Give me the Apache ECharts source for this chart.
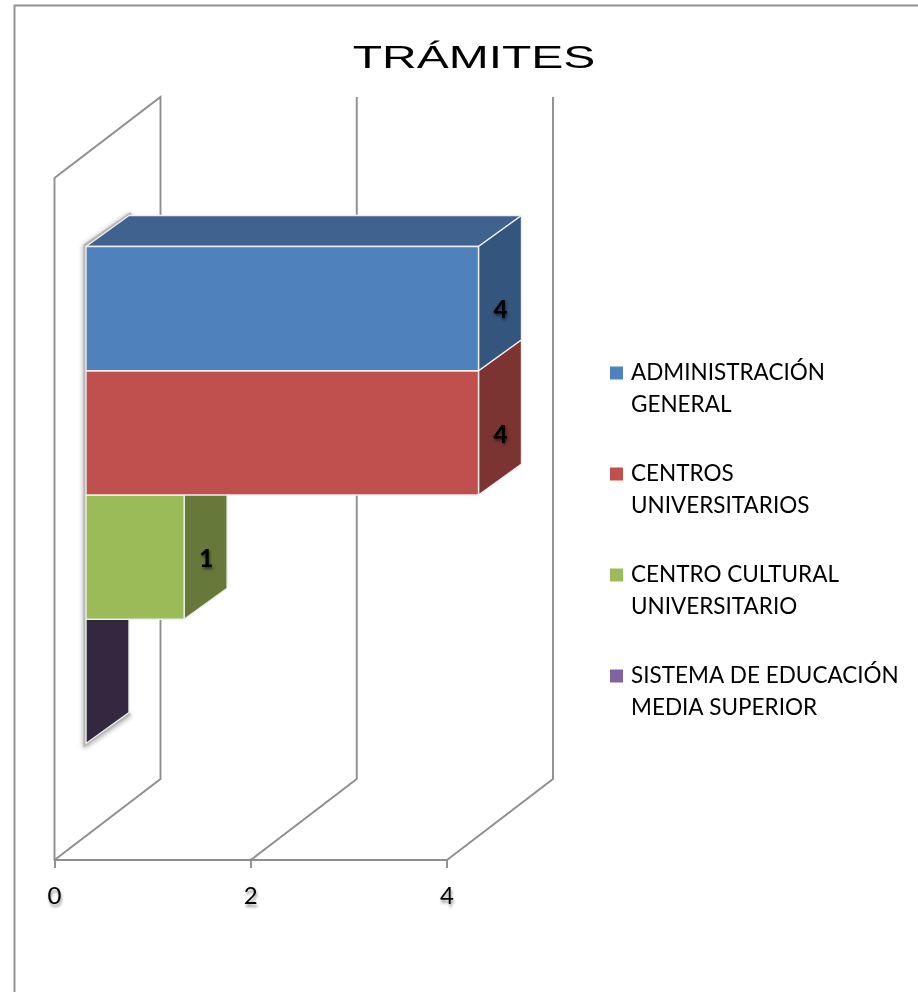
<!DOCTYPE html>
<html>
<head>
<meta charset="utf-8">
<title>TRÁMITES</title>
<script src="https://cdn.jsdelivr.net/npm/echarts@6/dist/echarts.min.js"></script>
<style>
  html, body { margin: 0; padding: 0; background: #fff; }
  #chart { width: 918px; height: 992px; }
</style>
</head>
<body>
<div id="chart"></div>
<script>
  const titleText = 'TRÁMITES'
  const categories = ['TRÁMITES']
  const seriesNames = [
    'ADMINISTRACIÓN\nGENERAL',
    'CENTROS\nUNIVERSITARIOS',
    'CENTRO CULTURAL\nUNIVERSITARIO',
    'SISTEMA DE EDUCACIÓN\nMEDIA SUPERIOR'
  ]
  const seriesValues = [4, 4, 1, 0]
  const tickValues = [0, 2, 4]

  const frontColors = ['#4f81bd', '#c0504d', '#9bbb59', '#8064a2']
  const sideColors = ['#34557e', '#7b3432', '#66793a', '#33283f']
  const topColor = '#3f628f'
  const lineColor = '#8e8e8e'
  const font = 'Lato, "Open Sans", sans-serif'

  // perspectiva: la pared del fondo y la profundidad de las barras, en pixeles
  const wallDx = 106, wallDy = -81
  const barShiftX = 31.5, barShiftY = -24
  const depthX = 43, depthY = -31
  const barRatio = 0.1822 // alto de cada barra respecto a la banda

  // cuadro de leyenda arriba, con un punto al final para que quede a la altura de la primera linea
  const legendIcon = 'path://M0 0H13V13H0ZM0 45H0.01V45.01H0Z'

  const chart = echarts.init(document.getElementById('chart'))

  function barBox(api, idx, value) {
    const band = api.size([0, 1])[1]
    const h = band * barRatio
    const left = api.coord([0, 0])[0] + barShiftX
    const right = api.coord([value, 0])[0] + barShiftX
    const top = api.coord([0, 0])[1] + barShiftY + (idx - 2) * h
    return { left, right, top, bottom: top + h }
  }

  function poly(points, fill) {
    return {
      type: 'polygon',
      shape: { points },
      style: { fill, stroke: '#eeeeee', lineWidth: 1.4, lineJoin: 'round' }
    }
  }

  function renderWall(params, api) {
    const x = api.coord([api.value(0), 0])[0]
    const cs = params.coordSys
    const bottom = cs.y + cs.height
    const top = cs.y
    const pts = api.value(0) === 0
      ? [[x, bottom], [x, top], [x + wallDx, top + wallDy], [x + wallDx, bottom + wallDy], [x, bottom]]
      : [[x, bottom], [x + wallDx, bottom + wallDy], [x + wallDx, top + wallDy]]
    return {
      type: 'polyline',
      shape: { points: pts },
      style: { fill: null, stroke: lineColor, lineWidth: 1.9 }
    }
  }

  function renderShadow(params, api) {
    const first = barBox(api, 0, 0)
    const last = barBox(api, seriesValues.length - 1, 0)
    return {
      type: 'polyline',
      shape: {
        points: [
          [first.left + depthX + 2, first.top + depthY - 2],
          [first.left - 1, first.top - 1],
          [first.left - 1, last.bottom + 1],
          [first.left + depthX + 1, last.bottom + depthY + 1]
        ]
      },
      style: {
        fill: null, stroke: '#b5b5b5', lineWidth: 3,
        shadowBlur: 5, shadowColor: 'rgba(0,0,0,0.45)', shadowOffsetY: 1
      }
    }
  }

  function makeBarRender(idx) {
    return function (params, api) {
      const value = api.value(0)
      const b = barBox(api, idx, value)
      const children = []
      if (idx === 0) {
        children.push(poly([
          [b.left, b.top], [b.left + depthX, b.top + depthY],
          [b.right + depthX, b.top + depthY], [b.right, b.top]
        ], topColor))
      }
      children.push(poly([
        [b.right, b.top], [b.right + depthX, b.top + depthY],
        [b.right + depthX, b.bottom + depthY], [b.right, b.bottom]
      ], sideColors[idx]))
      if (value > 0) {
        children.push(poly([
          [b.left, b.top], [b.right, b.top], [b.right, b.bottom], [b.left, b.bottom]
        ], frontColors[idx]))
        children.push({
          type: 'text',
          x: b.right + depthX / 2 + 0.5,
          y: (b.top + b.bottom) / 2 + depthY / 2 + 17.5,
          style: {
            text: String(value),
            align: 'center',
            verticalAlign: 'middle',
            font: '900 24px ' + font,
            fill: '#000',
            textShadowColor: 'rgba(0,0,0,0.55)',
            textShadowBlur: 3,
            textShadowOffsetX: 1,
            textShadowOffsetY: 2
          }
        })
      }
      return { type: 'group', children }
    }
  }

  // las barras de arriba tapan la parte alta del lateral de las de abajo
  const barSeries = seriesNames.map((name, i) => ({
    name,
    type: 'custom',
    coordinateSystem: 'cartesian2d',
    clip: false,
    z: 10 - i,
    itemStyle: { color: frontColors[i] },
    renderItem: makeBarRender(i),
    data: [[seriesValues[i], 0]],
    encode: { x: 0, y: 1 }
  }))

  chart.setOption({
    animation: false,
    backgroundColor: '#fff',
    grid: { left: 54.5, top: 178, width: 392.5, height: 682 },
    xAxis: {
      type: 'value',
      min: 0,
      max: 4,
      interval: 2,
      splitLine: { show: false },
      axisLine: { show: true, lineStyle: { color: lineColor, width: 1.9 } },
      axisTick: { show: true, length: 8, lineStyle: { color: lineColor, width: 1.9 } },
      axisLabel: {
        margin: 24,
        color: '#000',
        fontFamily: 'Lato',
        fontSize: 24,
        textShadowColor: 'rgba(0,0,0,0.4)',
        textShadowBlur: 3,
        textShadowOffsetX: 1,
        textShadowOffsetY: 3
      }
    },
    yAxis: {
      type: 'category',
      data: categories,
      show: false
    },
    legend: {
      orient: 'vertical',
      left: 610,
      top: 357,
      padding: 0,
      data: seriesNames,
      icon: legendIcon,
      itemWidth: 13,
      itemHeight: 45,
      itemGap: 37,
      selectedMode: false,
      textStyle: {
        color: '#000',
        fontFamily: 'Lato, "Open Sans", sans-serif',
        fontSize: 22.5,
        lineHeight: 32,
        padding: [0, 0, 0, 3]
      }
    },
    graphic: [
      {
        type: 'polyline',
        silent: true,
        z: 0,
        shape: { points: [[14.5, 992], [14.5, 5.5], [918, 5.5]] },
        style: { fill: null, stroke: '#939393', lineWidth: 2 }
      },
      {
        type: 'text',
        x: 474,
        y: 59,
        scaleX: 1.5,
        style: {
          text: titleText,
          align: 'center',
          verticalAlign: 'middle',
          font: '32px "Liberation Sans", Arial, sans-serif',
          fill: '#000'
        }
      }
    ],
    series: [
      {
        name: 'paredes',
        type: 'custom',
        coordinateSystem: 'cartesian2d',
        clip: false,
        z: 1,
        renderItem: renderWall,
        data: tickValues.map((t) => [t, 0]),
        encode: { x: 0, y: 1 }
      },
      {
        name: 'sombra',
        type: 'custom',
        coordinateSystem: 'cartesian2d',
        clip: false,
        z: 2,
        renderItem: renderShadow,
        data: [[0, 0]],
        encode: { x: 0, y: 1 }
      }
    ].concat(barSeries)
  })
</script>
</body>
</html>
